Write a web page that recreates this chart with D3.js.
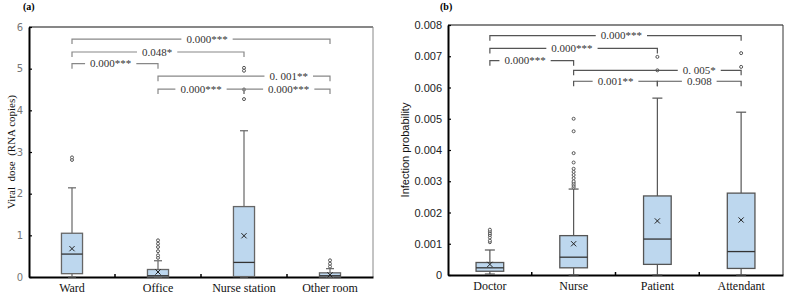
<!DOCTYPE html>
<html>
<head>
<meta charset="utf-8">
<script src="https://cdn.jsdelivr.net/npm/d3@7"></script>
<style>
  body { margin: 0; background: #fff; }
  svg { display: block; }
</style>
</head>
<body>
<svg id="chart" width="789" height="295"></svg>
<script>
// (a) viral dose by room
const roomCats = ["Ward", "Office", "Nurse station", "Other room"];
const roomMin = [0, 0, 0, 0];
const roomQ1 = [0.08, 0.0, 0.01, 0.0];
const roomMedian = [0.55, 0.03, 0.35, 0.03];
const roomQ3 = [1.05, 0.18, 1.69, 0.1];
const roomMax = [2.14, 0.39, 3.51, 0.2];
const roomMean = [0.68, 0.12, 0.99, 0.05];
const roomOutliers = [
    [2.81, 2.87],
    [0.46, 0.52, 0.62, 0.72, 0.8, 0.88],
    [4.27, 4.5, 4.95, 5.02],
    [0.25, 0.32, 0.4]
];
const roomTicks = [0, 1, 2, 3, 4, 5, 6];
const roomPairs = [[0, 3], [0, 2], [0, 1], [1, 3], [1, 2], [2, 3]];
const roomPLabels = ["0.000***", "0.048*", "0.000***", "0. 001**", "0.000***", "0.000***"];
const roomPLevels = [5.71, 5.40, 5.12, 4.82, 4.51, 4.51];
const roomPLabelAt = [1.57, 0.99, 0.45, 2.52, 1.5, 2.52];

// (b) infection probability by person
const personCats = ["Doctor", "Nurse", "Patient", "Attendant"];
const personMin = [0.00003, 0.0, 0.0, 0.0];
const personQ1 = [0.00012, 0.00023, 0.00034, 0.00021];
const personMedian = [0.00023, 0.00057, 0.00115, 0.00075];
const personQ3 = [0.0004, 0.00126, 0.00253, 0.00262];
const personMax = [0.0008, 0.00275, 0.00566, 0.00521];
const personMean = [0.00034, 0.001, 0.00173, 0.00176];
const personOutliers = [
    [0.00105, 0.0011, 0.0012, 0.00128, 0.00134, 0.0014, 0.00145],
    [0.0028, 0.00285, 0.0029, 0.00295, 0.003, 0.0031, 0.0032, 0.0033, 0.0034, 0.0036, 0.0039, 0.0046, 0.005],
    [0.00655, 0.00698],
    [0.00666, 0.0071]
];
const personTicks = [0, 0.001, 0.002, 0.003, 0.004, 0.005, 0.006, 0.007, 0.008];
const personPairs = [[0, 3], [0, 2], [0, 1], [1, 3], [1, 2], [2, 3]];
const personPLabels = ["0.000***", "0.000***", "0.000***", "0. 005*", "0.001**", "0.908"];
const personPLevels = [0.00766, 0.00725, 0.00686, 0.00655, 0.0062, 0.0062];
const personPLabelAt = [1.57, 0.98, 0.42, 2.5, 1.5, 2.5];

const svg = d3.select("#chart");
const serif = "'Liberation Serif', 'Times New Roman', serif";
const sans = "'Liberation Sans', Arial, sans-serif";

function drawPanel(p) {
    const g = svg.append("g");

    const x = d3.scaleBand()
        .domain(p.cats)
        .range([p.left, p.right])
        .padding(0);

    const y = d3.scaleLinear()
        .domain([0, p.yMax])
        .range([p.bottom, p.top]);

    const cx = i => x(p.cats[i]) + x.bandwidth() / 2;
    const posX = t => x(p.cats[0]) + x.bandwidth() / 2 + t * x.step();
    const bw = x.bandwidth() * p.boxFrac;

    // frame top / right
    g.append("line")
        .attr("x1", p.left).attr("x2", p.right)
        .attr("y1", p.top).attr("y2", p.top)
        .attr("stroke", "#111").attr("stroke-width", 1.2);
    g.append("line")
        .attr("x1", p.right).attr("x2", p.right)
        .attr("y1", p.top).attr("y2", p.bottom)
        .attr("stroke", p.frameRight).attr("stroke-width", 1);

    // y axis
    const yAxis = g.append("g")
        .attr("transform", `translate(${p.left},0)`)
        .call(d3.axisLeft(y).tickValues(p.ticks).tickFormat(p.fmt)
            .tickSizeInner(-3).tickSizeOuter(0).tickPadding(p.tickPad));
    yAxis.select(".domain").attr("stroke", "#000").attr("stroke-width", 2);
    yAxis.selectAll(".tick line").attr("stroke", "#000").attr("stroke-width", 1.2);
    yAxis.selectAll(".tick text")
        .style("font-family", p.tickFont)
        .style("font-size", p.tickSize + "px")
        .attr("fill", p.tickColor);

    // x axis
    const xAxis = g.append("g")
        .attr("transform", `translate(0,${p.bottom})`)
        .call(d3.axisBottom(x).tickSize(0).tickPadding(6));
    xAxis.select(".domain").attr("stroke", "#000").attr("stroke-width", 2);
    xAxis.selectAll(".tick text")
        .style("font-family", serif)
        .style("font-size", "12px")
        .attr("fill", "#111");

    // band boundary ticks
    g.selectAll(".bt")
        .data(p.cats.slice(1))
        .enter().append("line")
        .attr("x1", d => x(d)).attr("x2", d => x(d))
        .attr("y1", p.bottom).attr("y2", p.bottom - 3)
        .attr("stroke", "#000").attr("stroke-width", 1.5);

    // boxes
    p.cats.forEach((c, i) => {
        const c0 = cx(i);
        const stroke = p.boxStroke;
        // upper whisker
        g.append("line")
            .attr("x1", c0).attr("x2", c0)
            .attr("y1", y(p.q3[i])).attr("y2", y(p.max[i]))
            .attr("stroke", stroke).attr("stroke-width", 1.2);
        g.append("line")
            .attr("x1", c0 - p.cap).attr("x2", c0 + p.cap)
            .attr("y1", y(p.max[i])).attr("y2", y(p.max[i]))
            .attr("stroke", stroke).attr("stroke-width", 1.2);
        // lower whisker
        g.append("line")
            .attr("x1", c0).attr("x2", c0)
            .attr("y1", y(p.q1[i])).attr("y2", y(p.min[i]))
            .attr("stroke", stroke).attr("stroke-width", 1.2);
        g.append("line")
            .attr("x1", c0 - p.cap).attr("x2", c0 + p.cap)
            .attr("y1", y(p.min[i])).attr("y2", y(p.min[i]))
            .attr("stroke", stroke).attr("stroke-width", 1.2);
        // box
        g.append("rect")
            .attr("x", c0 - bw / 2)
            .attr("y", y(p.q3[i]))
            .attr("width", bw)
            .attr("height", Math.max(1, y(p.q1[i]) - y(p.q3[i])))
            .attr("fill", "#bdd7ee")
            .attr("stroke", stroke).attr("stroke-width", 1.3);
        // median
        g.append("line")
            .attr("x1", c0 - bw / 2).attr("x2", c0 + bw / 2)
            .attr("y1", y(p.median[i])).attr("y2", y(p.median[i]))
            .attr("stroke", "#333").attr("stroke-width", 1.3);
        // mean x
        const my = y(p.mean[i]);
        const s = 2.6;
        g.append("path")
            .attr("d", `M${c0 - s},${my - s}L${c0 + s},${my + s}M${c0 - s},${my + s}L${c0 + s},${my - s}`)
            .attr("stroke", "#222").attr("stroke-width", 1);
        // outliers
        g.selectAll(null)
            .data(p.outliers[i])
            .enter().append("circle")
            .attr("cx", c0)
            .attr("cy", d => y(d))
            .attr("r", 1.5)
            .attr("fill", "#fff")
            .attr("stroke", "#555")
            .attr("stroke-width", 1);
    });

    // significance brackets
    p.pairs.forEach((pr, k) => {
        const x1 = cx(pr[0]), x2 = cx(pr[1]);
        const ly = y(p.pLevels[k]);
        const lx = posX(p.pLabelAt[k]);
        const t = g.append("text")
            .attr("x", lx).attr("y", ly + 3.5)
            .attr("text-anchor", "middle")
            .style("font-family", serif)
            .style("font-size", "11px")
            .style("white-space", "pre")
            .attr("fill", "#333")
            .text(p.pLabels[k]);
        const w = t.node().getComputedTextLength();
        const gap = 5;
        g.append("path")
            .attr("d", `M${x1},${ly + 5}V${ly}H${lx - w / 2 - gap}M${lx + w / 2 + gap},${ly}H${x2}V${ly + 5}`)
            .attr("fill", "none")
            .attr("stroke", p.bracketColor)
            .attr("stroke-width", 1.2);
    });

    // y label
    g.append("text")
        .attr("transform", `translate(${p.yLabelX},${(p.top + p.bottom) / 2}) rotate(-90)`)
        .attr("text-anchor", "middle")
        .style("font-family", p.yLabelFont)
        .style("font-size", "11px")
        .style("white-space", "pre")
        .attr("fill", "#111")
        .text(p.yLabel);

    // panel title
    g.append("text")
        .attr("x", p.titleX).attr("y", 10)
        .style("font-family", serif)
        .style("font-size", "10px")
        .style("font-weight", "bold")
        .text(p.title);
}

drawPanel({
    cats: roomCats, min: roomMin, q1: roomQ1, median: roomMedian, q3: roomQ3,
    max: roomMax, mean: roomMean, outliers: roomOutliers, ticks: roomTicks,
    pairs: roomPairs, pLabels: roomPLabels, pLevels: roomPLevels, pLabelAt: roomPLabelAt,
    left: 29, right: 373, top: 27, bottom: 277, yMax: 6,
    boxFrac: 0.245, cap: 4, fmt: d3.format("d"),
    tickFont: "'DejaVu Sans', Tahoma, sans-serif", tickSize: 10, tickColor: "#777", tickPad: 6,
    boxStroke: "#666", bracketColor: "#888", frameRight: "#888",
    yLabel: "Viral  dose  (RNA copies)", yLabelX: 15, yLabelFont: serif,
    title: "(a)", titleX: 23
});

drawPanel({
    cats: personCats, min: personMin, q1: personQ1, median: personMedian, q3: personQ3,
    max: personMax, mean: personMean, outliers: personOutliers, ticks: personTicks,
    pairs: personPairs, pLabels: personPLabels, pLevels: personPLevels, pLabelAt: personPLabelAt,
    left: 448, right: 783, top: 25, bottom: 275, yMax: 0.008,
    boxFrac: 0.33, cap: 5, fmt: d => d === 0 ? "0" : d3.format(".3f")(d),
    tickFont: sans, tickSize: 11, tickColor: "#222", tickPad: 6,
    boxStroke: "#555", bracketColor: "#555", frameRight: "#333",
    yLabel: "Infection probability", yLabelX: 409, yLabelFont: "'Liberation Sans Narrow', 'Arial Narrow', sans-serif",
    title: "(b)", titleX: 440
});
</script>
</body>
</html>
